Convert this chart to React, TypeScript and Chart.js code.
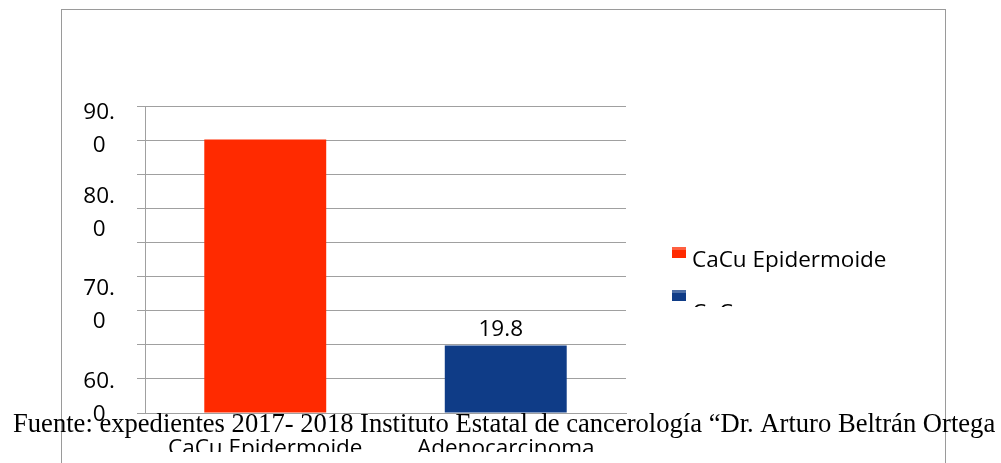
import React, { useEffect, useRef } from "react";
import { Chart, registerables } from "chart.js";

Chart.register(...registerables);

// ---- data ----
const categories = ["CaCu Epidermoide", "Adenocarcinoma"];
const seriesNames = ["CaCu Epidermoide", "CaCu Adenocarcinoma"];
const epidermoideValues: (number | null)[] = [80.2, null];
const adenocarcinomaValues: (number | null)[] = [null, 19.8];
const yTickLabels = ["90.0", "80.0", "70.0", "60.0"];
const sourceNote =
  "Fuente: expedientes 2017- 2018 Instituto Estatal de cancerología \u201CDr. Arturo Beltrán Ortega";

const SANS = "'Open Sans', 'DejaVu Sans', sans-serif";
const SERIF = "'Liberation Serif', 'Times New Roman', serif";
const FONT_SIZE = 22.5;

// wrap a tick label the way the original renderer did ("90.0" -> "90." / "0")
const wrapTick = (s: string) => {
  const i = s.indexOf(".");
  return i >= 0 ? [s.slice(0, i + 1), s.slice(i + 1)] : [s];
};

const wrapWords = (ctx: CanvasRenderingContext2D, text: string, maxW: number) => {
  const words = text.split(" ");
  const lines: string[] = [];
  let cur = "";
  words.forEach((w) => {
    const t = cur ? cur + " " + w : w;
    if (cur && ctx.measureText(t).width > maxW) {
      lines.push(cur);
      cur = w;
    } else cur = t;
  });
  if (cur) lines.push(cur);
  return lines;
};

const overlayPlugin = {
  id: "overlay",
  afterDraw(chart: any) {
    const { ctx, chartArea } = chart;
    ctx.save();
    // value labels
    ctx.font = `${FONT_SIZE}px ${SANS}`;
    ctx.fillStyle = "#000";
    ctx.textAlign = "center";
    ctx.textBaseline = "alphabetic";
    chart.data.datasets.forEach((ds: any, di: number) => {
      if (!ds.showValue) return;
      const meta = chart.getDatasetMeta(di);
      meta.data.forEach((bar: any, i: number) => {
        const v = ds.data[i];
        if (v == null) return;
        ctx.fillText(v.toFixed(1), bar.x - 5, bar.y - 9.5);
      });
    });
    ctx.restore();

    // legend (clipped like the original)
    ctx.save();
    const x0 = chartArea.right + 46;
    ctx.beginPath();
    ctx.rect(x0 - 4, chartArea.top, 320, 307 - chartArea.top);
    ctx.clip();
    ctx.font = `${FONT_SIZE}px ${SANS}`;
    ctx.textAlign = "left";
    ctx.textBaseline = "alphabetic";
    chart.data.datasets.forEach((ds: any, i: number) => {
      const boxTop = 247 + 43 * i;
      ctx.fillStyle = ds.backgroundColor;
      ctx.fillRect(x0, boxTop, 14, 11);
      ctx.fillStyle = "rgba(255,255,255,0.25)";
      ctx.fillRect(x0, boxTop, 14, 3);
      ctx.fillStyle = "#000";
      const lines = wrapWords(ctx, ds.label, 205);
      const base = boxTop + 20 + (lines.length - 1) * 10;
      lines.forEach((ln, k) => ctx.fillText(ln, x0 + 20, base + k * 27));
    });
    ctx.restore();

    // source note
    ctx.save();
    ctx.font = `26.6px ${SERIF}`;
    ctx.fillStyle = "#000";
    ctx.textAlign = "left";
    ctx.textBaseline = "alphabetic";
    ctx.fillText(sourceNote, 13, 432);
    ctx.restore();
  },
};

export default function App() {
  const ref = useRef<HTMLCanvasElement | null>(null);

  useEffect(() => {
    if (!ref.current) return;
    const grid = "#a0a0a0";
    const chart = new Chart(ref.current, {
      type: "bar",
      data: {
        labels: categories,
        datasets: [
          {
            label: seriesNames[0],
            data: epidermoideValues,
            backgroundColor: "#ff2a00",
            grouped: false,
            barPercentage: 0.507,
            categoryPercentage: 1,
          } as any,
          {
            label: seriesNames[1],
            data: adenocarcinomaValues,
            backgroundColor: "#0f3c87",
            grouped: false,
            barPercentage: 0.507,
            categoryPercentage: 1,
            showValue: true,
          } as any,
        ],
      },
      options: {
        responsive: false,
        animation: false,
        events: [],
        layout: { padding: { left: 0, top: 106, right: 375, bottom: 0 } },
        plugins: {
          legend: { display: false },
          tooltip: { enabled: false },
          title: { display: false },
        },
        scales: {
          x: {
            grid: { display: false, drawTicks: false },
            border: { display: true, color: grid, width: 1 },
            ticks: {
              color: "#000",
              font: { family: SANS, size: FONT_SIZE },
              padding: 22,
              maxRotation: 0,
              autoSkip: false,
            },
            afterFit: (s: any) => {
              s.height = 39;
            },
          },
          y: {
            min: 0,
            max: 90,
            ticks: { stepSize: 10, display: false },
            grid: { color: grid, lineWidth: 1, tickLength: 8, drawTicks: true },
            border: { display: true, color: grid, width: 1 },
            afterFit: (s: any) => {
              s.width = 30;
            },
          },
          yLab: {
            type: "linear",
            position: "left",
            weight: 1,
            min: 0,
            max: 90,
            grid: { display: false, drawTicks: false },
            border: { display: false },
            afterBuildTicks: (s: any) => {
              // where the wrapped labels ended up on the 0–90 scale
              const anchors = [83.3, 58.6, 31.7, 4.5];
              s.ticks = anchors.map((v) => ({ value: v }));
            },
            ticks: {
              autoSkip: false,
              crossAlign: "center",
              padding: 0,
              color: "#000",
              font: { family: SANS, size: FONT_SIZE, lineHeight: 33 / FONT_SIZE },
              callback: (_v: any, i: number) => wrapTick(yTickLabels[i] ?? ""),
            },
            afterFit: (s: any) => {
              s.width = 115;
            },
          } as any,
        },
      },
      plugins: [overlayPlugin],
    });
    return () => chart.destroy();
  }, []);

  return (
    <div
      style={{
        position: "fixed",
        left: 0,
        top: 0,
        width: 1001,
        height: 463,
        overflow: "hidden",
        background: "#fff",
      }}
    >
      <div
        style={{
          position: "absolute",
          left: 61,
          top: 9,
          width: 885,
          height: 700,
          boxSizing: "border-box",
          border: "1px solid #9a9a9a",
        }}
      />
      <canvas
        ref={ref}
        width={1001}
        height={452}
        style={{ position: "absolute", left: 0, top: 0, width: 1001, height: 452 }}
      />
    </div>
  );
}
